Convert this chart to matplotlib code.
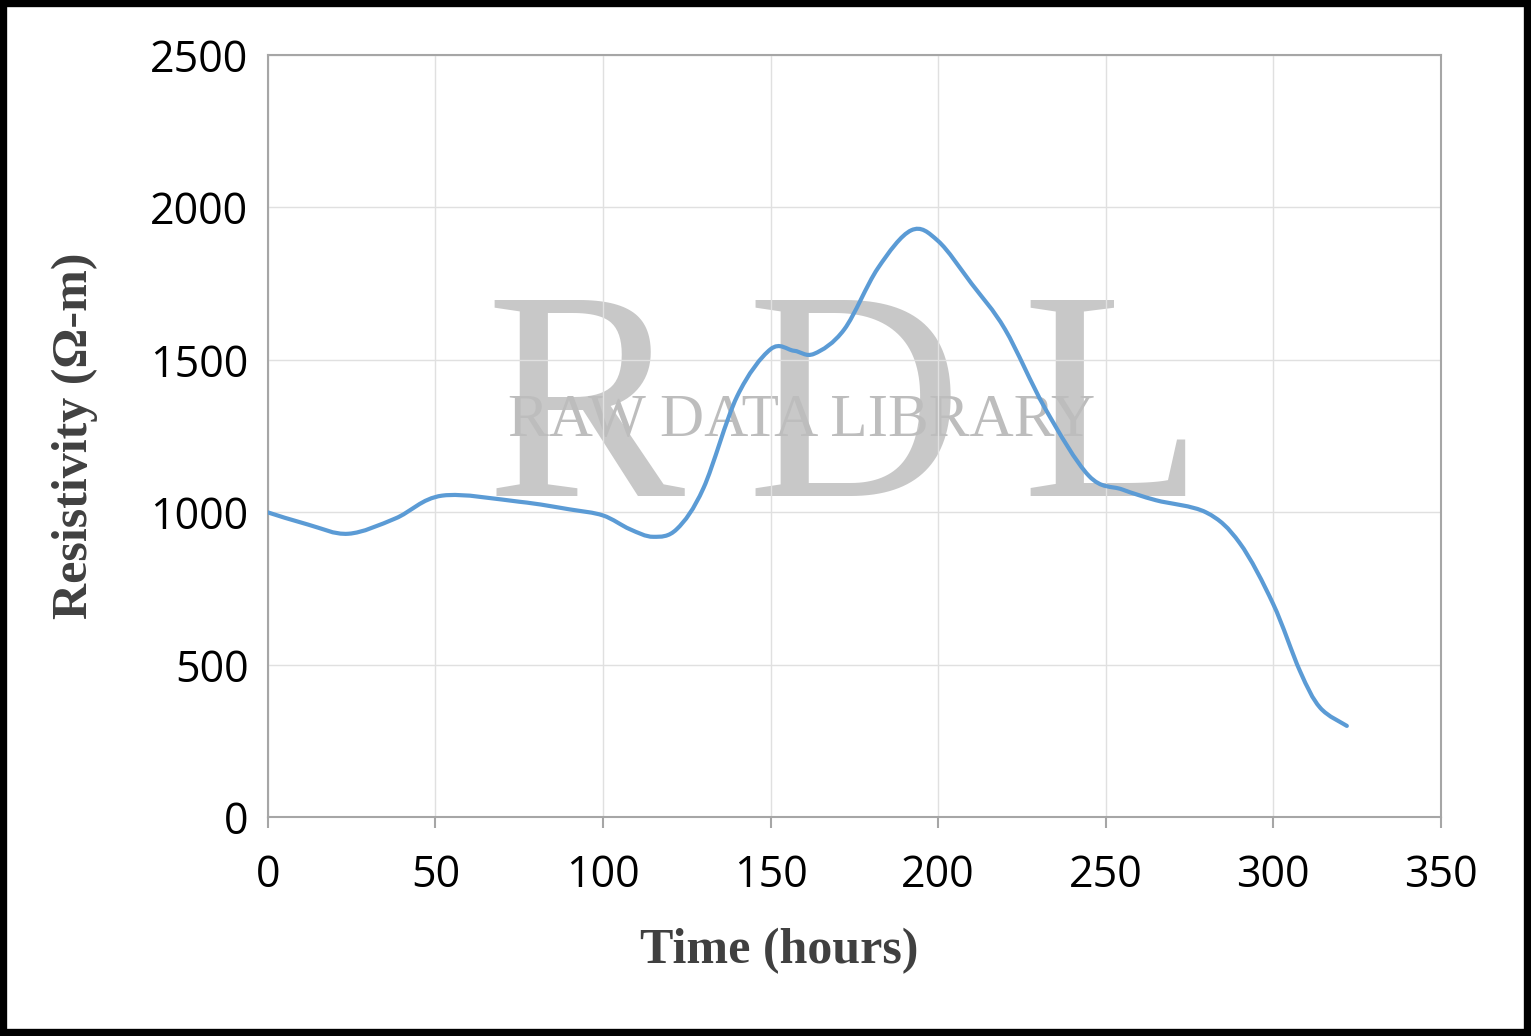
import numpy as np
import matplotlib
matplotlib.use("Agg")
import matplotlib.pyplot as plt
from matplotlib.path import Path
from matplotlib.patches import PathPatch, Rectangle

# readings (hours, ohm-m)
time_h = [0, 12, 24, 38, 52, 75, 90, 100, 108, 115, 122, 130, 140, 150, 157, 163,
          172, 182, 192, 200, 210, 220, 232, 245, 255, 265, 280, 290, 300, 308, 314, 322]
resistivity = [1000, 960, 930, 980, 1055, 1035, 1010, 990, 945, 920, 945, 1080, 1380, 1535, 1530, 1520,
               1600, 1800, 1925, 1890, 1750, 1600, 1340, 1120, 1075, 1040, 1000, 900, 700, 480, 360, 300]

x_ticks = [0, 50, 100, 150, 200, 250, 300, 350]
y_ticks = [0, 500, 1000, 1500, 2000, 2500]


def smooth_path(xs, ys, t=1 / 6):
    # Catmull-Rom segments as cubic beziers (like Excel smoothed lines)
    p = np.column_stack([xs, ys]).astype(float)
    verts = [p[0]]
    codes = [Path.MOVETO]
    n = len(p)
    for i in range(n - 1):
        p0 = p[max(i - 1, 0)]
        p1, p2 = p[i], p[i + 1]
        p3 = p[min(i + 2, n - 1)]
        c1 = p1 + (p2 - p0) * t
        c2 = p2 - (p3 - p1) * t
        verts += [c1, c2, p2]
        codes += [Path.CURVE4] * 3
    return Path(verts, codes)


fig = plt.figure(figsize=(15.31, 10.36), dpi=100)
ax = fig.add_axes([0.175, 0.211, 0.766, 0.736])

fig.patches.append(Rectangle((0.002, 0.003), 0.996, 0.994, transform=fig.transFigure,
                             fill=False, lw=6, ec="black"))

# watermark, under the line
for ch, xc in zip("RDL", [0.27, 0.50, 0.72]):
    ax.text(xc, 0.515, ch, transform=ax.transAxes, fontsize=215, family="Liberation Serif",
            color="#c8c8c8", ha="center", va="center", zorder=0)
ax.text(0.455, 0.52, "RAW DATA LIBRARY", transform=ax.transAxes, fontsize=44,
        family="Liberation Serif", color="#bdbdbd", ha="center", va="center", zorder=1)

ax.add_patch(PathPatch(smooth_path(time_h, resistivity), fill=False,
                       ec="#5b9bd5", lw=3, capstyle="round", zorder=3))

ax.set_xlim(0, 350)
ax.set_ylim(0, 2500)
ax.set_xticks(x_ticks)
ax.set_yticks(y_ticks)
ax.grid(True, color="#e0e0e0", lw=1, zorder=-1)
for s in ax.spines.values():
    s.set_color("#a6a6a6")
    s.set_linewidth(1.5)
ax.tick_params(colors="black", labelsize=31, length=8, width=1.5, direction="out")
ax.tick_params(axis="x", color="#a6a6a6", pad=18)
ax.tick_params(axis="y", length=0, pad=14)
for lab in ax.get_xticklabels() + ax.get_yticklabels():
    lab.set_family("Open Sans")

ax.set_xlabel("Time (hours)", fontsize=36, family="Liberation Serif", weight="bold",
              color="#404040")
ax.set_ylabel("Resistivity (Ω-m)", fontsize=36, family="Liberation Serif", weight="bold",
              color="#404040")
ax.xaxis.set_label_coords(0.436, -0.145)
ax.yaxis.set_label_coords(-0.145, 0.5)

fig.savefig("out.png", dpi=100)
